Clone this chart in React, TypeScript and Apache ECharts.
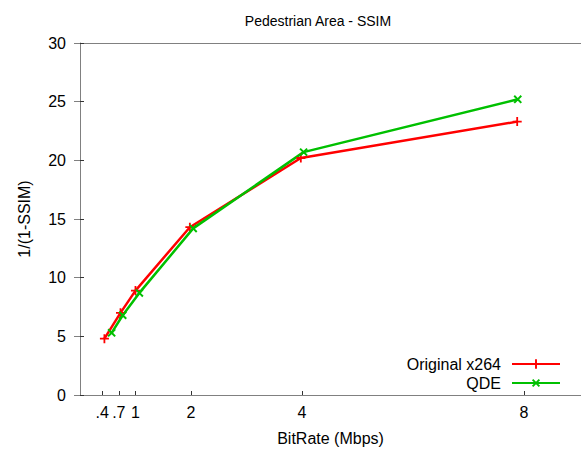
import React, { useEffect, useRef } from "react";
import * as echarts from "echarts";

const titleText = "Pedestrian Area - SSIM";
const xName = "BitRate (Mbps)";
const yName = "1/(1-SSIM)";
const xTickValues = [0.4, 0.7, 1, 2, 4, 8];

const seriesNames = ["Original x264", "QDE"];
const x264X = [0.44, 0.73, 1.0, 1.98, 3.98, 7.88];
const x264Y = [4.8, 7.0, 8.9, 14.3, 20.2, 23.3];
const qdeX = [0.57, 0.77, 1.07, 2.04, 4.03, 7.89];
const qdeY = [5.3, 6.8, 8.7, 14.2, 20.7, 25.2];

const FONT = "'Liberation Sans', Arial, sans-serif";
const PLUS = "path://M4,0H6V4H10V6H6V10H4V6H0V4H4Z";

function pairs(xs: number[], ys: number[]) {
  return xs.map((x, i) => [x, ys[i]]);
}

export default function App() {
  const ref = useRef<HTMLDivElement>(null);
  useEffect(() => {
    if (!ref.current) return;
    const chart = echarts.init(ref.current, null, { renderer: "svg" });
    const fmt = (v: number) => (v < 1 ? String(v).replace(/^0\./, ".") : String(v));
    chart.setOption({
      animation: false,
      backgroundColor: "#fff",
      title: {
        text: titleText,
        left: 313,
        textAlign: "center",
        top: 9,
        textStyle: { fontFamily: FONT, fontSize: 14, fontWeight: "normal", color: "#000" },
      },
      legend: {
        orient: "vertical",
        right: 20,
        top: 356,
        align: "right",
        padding: 0,
        itemWidth: 48,
        itemHeight: 12,
        itemGap: 3,
        textStyle: { fontFamily: FONT, fontSize: 16, color: "#000", padding: [0, 6, 0, 0] },
        data: seriesNames,
      },
      grid: { left: 80, right: 0, top: 43, bottom: 57, containLabel: false },
      xAxis: [
        {
          type: "value",
          min: 0,
          max: 9.03,
          position: "bottom",
          axisLine: { show: true, onZero: false, lineStyle: { color: "#808080", width: 1 } },
          axisTick: { show: true, inside: true, length: 4, customValues: xTickValues, lineStyle: { color: "#333" } },
          axisLabel: { customValues: xTickValues, formatter: fmt, color: "#000", fontSize: 16, fontFamily: FONT, margin: 9 },
          splitLine: { show: false },
          name: xName,
          nameLocation: "middle",
          nameGap: 35,
          nameTextStyle: { fontFamily: FONT, fontSize: 16, color: "#000" },
        },
        {
          type: "value",
          min: 0,
          max: 9.03,
          position: "top",
          axisLine: { show: true, onZero: false, lineStyle: { color: "#808080", width: 1 } },
          axisTick: { show: false },
          axisLabel: { show: false },
          splitLine: { show: false },
        },
      ],
      yAxis: [
        {
          type: "value",
          min: 0,
          max: 30,
          interval: 5,
          position: "left",
          axisLine: { show: true, onZero: false, lineStyle: { color: "#808080", width: 1 } },
          axisTick: { show: true, inside: true, length: 4, lineStyle: { color: "#333" } },
          axisLabel: { color: "#000", fontSize: 16, fontFamily: FONT, margin: 14 },
          splitLine: { show: false },
          name: yName,
          nameLocation: "middle",
          nameGap: 48,
          nameTextStyle: { fontFamily: FONT, fontSize: 16, color: "#000" },
        },
        {
          type: "value",
          min: 0,
          max: 30,
          interval: 5,
          position: "right",
          axisLine: { show: false },
          axisTick: { show: true, inside: true, length: 6, lineStyle: { color: "#808080" } },
          axisLabel: { show: false },
          splitLine: { show: false },
        },
      ],
      series: [
        {
          name: seriesNames[0],
          type: "line",
          data: pairs(x264X, x264Y),
          symbol: PLUS,
          symbolSize: 9,
          showAllSymbol: true,
          lineStyle: { color: "#ff0000", width: 2.5 },
          itemStyle: { color: "#ff0000" },
        },
        {
          name: seriesNames[1],
          type: "line",
          data: pairs(qdeX, qdeY),
          symbol: PLUS,
          symbolRotate: 45,
          symbolSize: 10,
          showAllSymbol: true,
          lineStyle: { color: "#00c000", width: 2.5 },
          itemStyle: { color: "#00c000" },
        },
      ],
    });
    return () => chart.dispose();
  }, []);
  return <div ref={ref} style={{ position: "absolute", left: 0, top: 0, width: 581, height: 452 }} />;
}
